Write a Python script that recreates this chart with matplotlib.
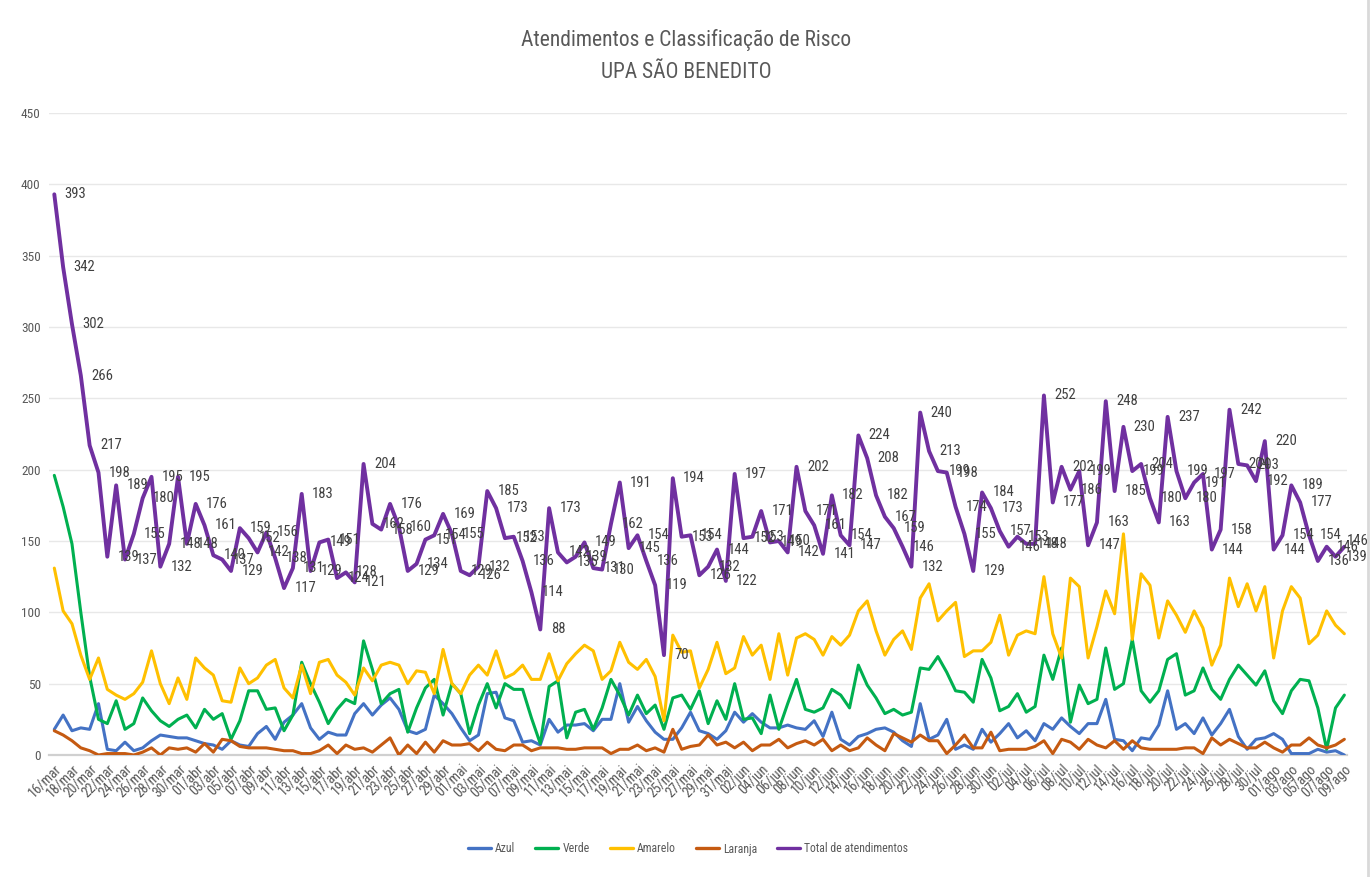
import matplotlib
matplotlib.use("Agg")
import matplotlib.pyplot as plt
import matplotlib.font_manager as fm
from matplotlib.lines import Line2D
import pandas as pd

names = {f.name for f in fm.fontManager.ttflist}
NARROW = next((n for n in ['Liberation Sans Narrow', 'Roboto Condensed', 'Open Sans Condensed'] if n in names), None)
if NARROW:
    FONT = dict(family=[NARROW, 'DejaVu Sans'])
else:
    FONT = dict(family=['DejaVu Sans'], stretch='condensed')

start_date = '2020-03-16'
n_days = 147
month_pt = ['jan', 'fev', 'mar', 'abr', 'mai', 'jun', 'jul', 'ago', 'set', 'out', 'nov', 'dez']

total = [393, 342, 302, 266, 217, 198, 139, 189, 137, 155,
         180, 195, 132, 148, 195, 148, 176, 161, 140, 137,
         129, 159, 152, 142, 156, 138, 117, 131, 183, 129,
         149, 151, 124, 128, 121, 204, 162, 158, 176, 160,
         129, 134, 151, 154, 169, 155, 129, 126, 132, 185,
         173, 152, 153, 136, 114, 88, 173, 142, 135, 139,
         149, 131, 130, 162, 191, 145, 154, 136, 119, 70,
         194, 153, 154, 126, 132, 144, 122, 197, 152, 153,
         171, 149, 150, 142, 202, 171, 161, 141, 182, 154,
         147, 224, 208, 182, 167, 159, 146, 132, 240, 213,
         199, 198, 174, 155, 129, 184, 173, 157, 146, 153,
         148, 148, 252, 177, 202, 186, 199, 147, 163, 248,
         185, 230, 199, 204, 180, 163, 237, 199, 180, 191,
         197, 144, 158, 242, 204, 203, 192, 220, 144, 154,
         189, 177, 154, 136, 146, 139, 146]

amarelo = [131, 101, 92, 70, 53, 68, 46, 42, 39, 43, 51, 73, 50, 36, 54, 39, 68, 61, 56, 38, 37, 61, 50, 54, 63,
           67, 47, 40, 63, 43, 65, 67, 56, 51, 42, 61, 52, 63, 65, 63, 50, 59, 58, 43, 74, 50, 43, 56, 63, 56,
           73, 54, 57, 63, 53, 53, 71, 52, 64, 71, 77, 73, 53, 59, 79, 65, 60, 67, 55, 24, 84, 72, 73, 47, 60,
           79, 57, 61, 83, 70, 77, 53, 85, 56, 82, 85, 81, 70, 83, 77, 84, 101, 108, 87, 70, 81, 87, 74,
           110, 120, 94, 101, 107, 69, 73, 73, 79, 98, 70, 84, 87, 85, 125, 85, 68, 124, 118, 68, 90, 115, 99, 155, 81,
           127, 119,
           82, 108, 98, 86, 101, 89, 63, 77, 124, 104, 120, 101, 118, 68, 101, 118, 110, 78, 84, 101, 91, 85]

verde = [196, 174, 148, 100, 55, 25, 22, 38, 18, 22, 40, 31, 24, 20, 25, 28, 19, 32, 25, 29, 11, 24, 45, 45, 32,
         33, 17, 28, 65, 50, 37, 22, 32, 39, 36, 80, 60, 36, 43, 46, 16, 33, 47, 53, 28, 50, 43, 15, 35, 50,
         33, 50, 46, 46, 26, 8, 48, 52, 12, 30, 32, 18, 33, 53, 42, 28, 42, 29, 35, 18, 40, 42, 32, 45, 22,
         38, 25, 50, 25, 26, 15, 42, 18, 36, 53, 32, 30, 33, 46, 42, 33, 63, 49, 40, 29, 32, 28, 30,
         61, 60, 69, 58, 45, 44, 37, 67, 54, 31, 34, 43, 30, 34, 70, 53, 75, 23, 49, 36, 39, 75, 46, 50, 81,
         45, 37,
         45, 67, 71, 42, 45, 61, 46, 39, 53, 63, 56, 49, 59, 38, 29, 45, 53, 52, 33, 4, 33, 42]

azul = [18, 28, 17, 19, 18, 36, 4, 3, 9, 3, 5, 10, 14, 13, 12, 12, 10, 8, 7, 4, 10, 7, 6, 15, 20,
        11, 23, 28, 36, 19, 11, 16, 14, 14, 29, 36, 28, 35, 40, 32, 17, 15, 18, 42, 36, 29, 19, 10, 14, 43,
        44, 26, 24, 9, 10, 7, 25, 16, 21, 21, 22, 17, 25, 25, 50, 23, 34, 24, 16, 11, 11, 19, 30, 17, 15,
        11, 17, 30, 23, 29, 23, 19, 19, 21, 19, 18, 24, 13, 30, 11, 7, 13, 15, 18, 19, 16, 10, 6,
        36, 11, 14, 25, 4, 7, 4, 18, 9, 15, 22, 12, 17, 10, 22, 18, 26, 20, 15, 22, 22, 39, 11, 10, 3,
        12, 11,
        21, 45, 18, 22, 15, 26, 14, 22, 32, 13, 4, 11, 12, 15, 11, 1, 1, 1, 4, 2, 3, 0]

laranja = [17, 14, 10, 5, 3, 0, 1, 1, 1, 0, 2, 5, 0, 5, 4, 5, 2, 8, 2, 11, 10, 6, 5, 5, 5,
           4, 3, 3, 1, 1, 3, 7, 1, 7, 4, 5, 2, 7, 12, 0, 7, 1, 9, 2, 10, 7, 7, 8, 3, 9,
           4, 3, 7, 7, 3, 5, 5, 5, 4, 4, 5, 5, 5, 1, 4, 4, 7, 3, 5, 2, 18, 4, 6, 7, 14,
           7, 9, 5, 9, 3, 7, 7, 11, 5, 8, 10, 7, 11, 3, 7, 3, 5, 12, 7, 3, 15, 12, 9,
           14, 10, 10, 1, 7, 14, 5, 5, 16, 3, 4, 4, 4, 6, 10, 1, 11, 9, 4, 11, 7, 5, 10, 4, 10,
           5, 4,
           4, 4, 4, 5, 5, 1, 12, 7, 11, 8, 5, 5, 9, 5, 2, 7, 7, 12, 7, 5, 7, 11]

series_names = ['Azul', 'Verde', 'Amarelo', 'Laranja', 'Total de atendimentos']
series_colors = ['#4472C4', '#00B050', '#FFC000', '#C55A11', '#7030A0']
y_ticks = [0, 50, 100, 150, 200, 250, 300, 350, 400, 450]

dates = pd.date_range(start_date, periods=n_days, freq='D')
categories = [f"{d.day:02d}/{month_pt[d.month - 1]}" for d in dates]
x = list(range(n_days))

fig = plt.figure(figsize=(13.72, 8.77), dpi=100)
ax = fig.add_axes([49 / 1372, 1 - 755 / 877, (1347 - 49) / 1372, (755 - 113) / 877])

data = [azul, verde, amarelo, laranja, total]
for vals, name, col in zip(data, series_names, series_colors):
    lw = 2.8 if name.startswith('Total') else 2.2
    ax.plot(x, vals, color=col, lw=lw, label=name, solid_joinstyle='round',
            solid_capstyle='round', zorder=3)

for xi, v in zip(x, total):
    dx = 7.5 if xi < n_days - 1 else 2.0
    dy = 0 if xi < n_days - 1 else 4
    ax.annotate(str(v), (xi, v), xytext=(dx, dy), textcoords='offset points',
                ha='left', va='center', fontsize=10.5, color='#404040', zorder=4,
                annotation_clip=False, **FONT)

ax.set_xlim(-0.6, n_days - 1 + 0.3)
ax.set_ylim(0, 450)
ax.set_yticks(y_ticks)
ax.set_yticklabels([str(t) for t in y_ticks], fontsize=9.5, color='#595959', **FONT)
ax.set_xticks(x[::2])
ax.set_xticklabels(categories[::2], rotation=45, ha='right', rotation_mode='anchor',
                   fontsize=10, color='#595959', **FONT)
ax.tick_params(axis='both', length=0, pad=6)
ax.tick_params(axis='x', pad=5)
ax.grid(axis='y', color='#E8E8E8', lw=1.0, zorder=0)
for s in ['top', 'right', 'left']:
    ax.spines[s].set_visible(False)
ax.spines['bottom'].set_color('#D0D0D0')
ax.spines['bottom'].set_linewidth(1.6)

fig.text(686 / 1372, 1 - 40 / 877, 'Atendimentos e Classificação de Risco', ha='center', va='center',
         fontsize=15.5, color='#595959', **FONT)
fig.text(686 / 1372, 1 - 73 / 877, 'UPA SÃO BENEDITO', ha='center', va='center',
         fontsize=15.5, color='#595959', **FONT)

leg = fig.legend(loc='center', bbox_to_anchor=(688 / 1372, 1 - 849 / 877), ncol=5, frameon=False,
                 prop=fm.FontProperties(size=8.5, **FONT), handlelength=1.95, columnspacing=1.7,
                 handletextpad=0.35)
for t in leg.get_texts():
    t.set_color('#595959')
for h in leg.get_lines():
    h.set_linewidth(2.4)

fig.add_artist(Line2D([1368 / 1372, 1368 / 1372], [0, 1], color='#D9D9D9', lw=2))

fig.savefig('out.png', dpi=100)
